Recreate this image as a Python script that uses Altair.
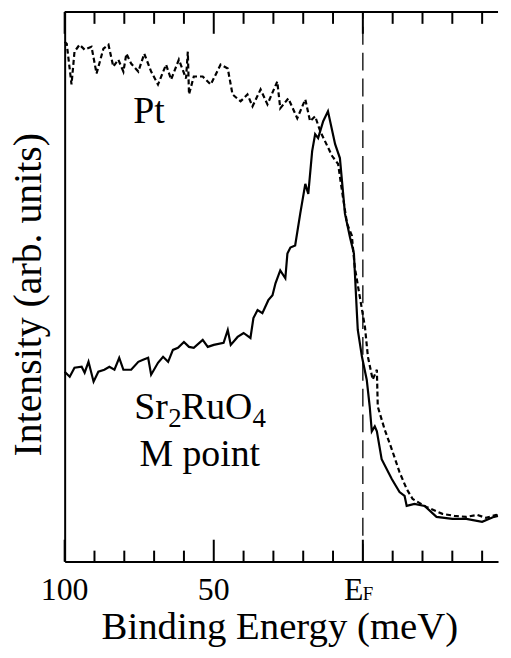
import altair as alt
import pandas as pd

# Pt reference spectrum (dashed): binding energy (meV), intensity (arb. units)
pt_energy = [100, 99.3, 97.7, 96.7, 95, 93.3, 91, 89.3, 87, 85.3, 83.7, 82, 80.3, 79.3, 77.7,
             75.3, 73.3, 71, 68.7, 66, 64.3, 61.7, 59.3, 58.7, 58.3, 56.7, 53.7, 51, 47.7, 45.3,
             43.7, 41, 38.7, 37, 34.3, 32, 28.7, 27.7, 25, 22, 19.3, 17.7, 16, 14.3, 10.3, 8.3,
             7, 5.3, 3.7, 2.7, 1, -0.7, -1.7, -3.3, -4.7, -5, -7.3, -9.7, -12.3, -14.7, -16.7,
             -21.3, -26.7, -30.7, -34.7, -38.3, -41.3, -44.7, -45.3]
pt_intensity = [523, 521, 480, 513, 520, 515, 518, 491, 516, 520, 498, 505, 493, 511, 501,
                493, 511, 493, 480, 500, 485, 505, 486, 513, 470, 488, 488, 480, 500, 496,
                470, 463, 470, 458, 475, 460, 483, 456, 466, 446, 465, 443, 448, 433, 408, 400,
                373, 340, 328, 296, 266, 236, 206, 183, 193, 156, 133, 113, 90, 73, 63,
                55, 48, 46, 45, 47, 44, 47, 46]

# Sr2RuO4 M point spectrum (solid)
sr_energy = [100, 98.3, 96.7, 94.3, 93.3, 92, 90.3, 88.7, 86.7, 85, 83.3, 81.7, 80.3, 77.7,
             75.3, 73.7, 72, 71, 68.7, 67, 65.3, 63.7, 62, 60, 58.3, 56.7, 53.7, 52, 50, 46.7,
             45.3, 44.3, 42, 40, 37.7, 36.7, 35.3, 33.7, 31.7, 30.3, 29.3, 27.7, 26, 25.3, 24.3,
             22.7, 21, 19.3, 18.3, 17, 16, 15, 13.3, 11.7, 9.3, 7.7, 6, 4.3, 3, 2, 1.7, 0.3,
             -1.3, -2.3, -3, -4, -4.7, -6.3, -9.7, -12.3, -14, -14.7, -17.3, -20.7, -24.7, -30,
             -34.7, -40, -44, -45.3]
sr_intensity = [191, 186, 195, 196, 190, 201, 181, 191, 193, 196, 193, 205, 193, 193,
                201, 203, 205, 188, 200, 206, 201, 213, 215, 221, 216, 215, 223, 216, 218, 220,
                233, 218, 226, 230, 225, 245, 253, 250, 263, 268, 280, 293, 285, 310, 316,
                318, 350, 380, 370, 413, 430, 426, 443, 453, 420, 406, 350, 326, 310, 250, 233, 206,
                183, 156, 131, 136, 131, 103, 83, 70, 66, 56, 58, 56, 45, 43,
                43, 40, 45, 46]

minor_ticks = [90, 80, 70, 60, 40, 30, 20, 10, -10, -20, -30, -40]
major_ticks = [100, 50, 0]
tick_label_values = [100, 50]
tick_label_texts = ["100", "50"]

X_MIN, X_MAX = 100, -45.33
Y_MIN, Y_MAX = 0, 553

FONT = "Liberation Serif"
xs = alt.Scale(domain=[X_MIN, X_MAX], nice=False, zero=False)
ys = alt.Scale(domain=[Y_MIN, Y_MAX], nice=False, zero=False)

df_pt = pd.DataFrame({"E": pt_energy, "I": pt_intensity})
df_sr = pd.DataFrame({"E": sr_energy, "I": sr_intensity})

x_axis = alt.Axis(labels=False, ticks=False, grid=False, domain=True, domainColor="black",
                  domainWidth=2, title="Binding Energy (meV)", titleFont=FONT, titleFontSize=39,
                  titleFontWeight="normal", titleColor="black", titleX=216, titleY=77,
                  titleAlign="center", titleBaseline="alphabetic")
y_axis = alt.Axis(labels=False, ticks=False, grid=False, domain=True, domainColor="black",
                  domainWidth=2, title="Intensity (arb. units)", titleFont=FONT, titleFontSize=40,
                  titleFontWeight="normal", titleColor="black", titleX=-24, titleY=284,
                  titleAngle=270, titleAlign="center", titleBaseline="alphabetic")

pt_line = alt.Chart(df_pt).mark_line(color="black", strokeWidth=2.2, strokeDash=[5, 3]).encode(
    x=alt.X("E:Q", scale=xs, axis=x_axis),
    y=alt.Y("I:Q", scale=ys, axis=y_axis),
)
sr_line = alt.Chart(df_sr).mark_line(color="black", strokeWidth=2.2).encode(
    x=alt.X("E:Q", scale=xs),
    y=alt.Y("I:Q", scale=ys),
)

# Fermi level dashed line
df_ef = pd.DataFrame({"E": [0], "y0": [Y_MIN], "y1": [Y_MAX]})
ef_line = alt.Chart(df_ef).mark_rule(color="black", strokeWidth=1.3, strokeDash=[18, 8]).encode(
    x=alt.X("E:Q", scale=xs), y=alt.Y("y0:Q", scale=ys), y2="y1:Q")

# top frame line
df_top = pd.DataFrame({"x0": [X_MIN], "x1": [X_MAX], "y": [Y_MAX]})
top_line = alt.Chart(df_top).mark_rule(color="black", strokeWidth=2).encode(
    x=alt.X("x0:Q", scale=xs), x2="x1:Q", y=alt.Y("y:Q", scale=ys))

# invisible layout anchor (reserves room left of and above the frame)
df_anchor = pd.DataFrame({"E": [X_MIN + 55 / 3], "y0": [Y_MIN], "y1": [Y_MAX + 1.5]})
anchor = alt.Chart(df_anchor).mark_rule(color="white", strokeWidth=1, strokeOpacity=0).encode(
    x=alt.X("E:Q", scale=xs), y=alt.Y("y0:Q", scale=ys), y2="y1:Q")

# inward ticks (bottom and top)
rows = []
for t in minor_ticks:
    rows.append({"E": t, "y0": Y_MIN, "y1": Y_MIN + 11})
    rows.append({"E": t, "y0": Y_MAX, "y1": Y_MAX - 12})
for t in major_ticks:
    rows.append({"E": t, "y0": Y_MIN, "y1": Y_MIN + 22})
    rows.append({"E": t, "y0": Y_MAX, "y1": Y_MAX - 22})
df_ticks = pd.DataFrame(rows)
ticks = alt.Chart(df_ticks).mark_rule(color="black", strokeWidth=2).encode(
    x=alt.X("E:Q", scale=xs), y=alt.Y("y0:Q", scale=ys), y2="y1:Q")

# tick labels
df_tl = pd.DataFrame({"E": tick_label_values, "I": [-39] * len(tick_label_values), "t": tick_label_texts})
tick_labels = alt.Chart(df_tl).mark_text(font=FONT, fontSize=32, align="center",
                                         baseline="alphabetic").encode(
    x=alt.X("E:Q", scale=xs), y=alt.Y("I:Q", scale=ys), text="t:N")
ef_E = alt.Chart(pd.DataFrame({"E": [6.3], "I": [-39], "t": ["E"]})).mark_text(
    font=FONT, fontSize=32, align="left", baseline="alphabetic").encode(
    x=alt.X("E:Q", scale=xs), y=alt.Y("I:Q", scale=ys), text="t:N")
ef_F = alt.Chart(pd.DataFrame({"E": [0.0], "I": [-39], "t": ["F"]})).mark_text(
    font=FONT, fontSize=19, align="left", baseline="alphabetic").encode(
    x=alt.X("E:Q", scale=xs), y=alt.Y("I:Q", scale=ys), text="t:N")

# annotations
df_big = pd.DataFrame({"E": [77, 76.7, 61], "I": [441, 143, 143], "t": ["Pt", "Sr", "RuO"]})
ann_big = alt.Chart(df_big).mark_text(font=FONT, fontSize=38, align="left",
                                      baseline="alphabetic").encode(
    x=alt.X("E:Q", scale=xs), y=alt.Y("I:Q", scale=ys), text="t:N")
df_sub = pd.DataFrame({"E": [65.3, 37], "I": [135, 135], "t": ["2", "4"]})
ann_sub = alt.Chart(df_sub).mark_text(font=FONT, fontSize=27, align="left",
                                      baseline="alphabetic").encode(
    x=alt.X("E:Q", scale=xs), y=alt.Y("I:Q", scale=ys), text="t:N")
df_m = pd.DataFrame({"E": [54.7], "I": [96], "t": ["M point"]})
ann_m = alt.Chart(df_m).mark_text(font=FONT, fontSize=38, align="center",
                                  baseline="alphabetic").encode(
    x=alt.X("E:Q", scale=xs), y=alt.Y("I:Q", scale=ys), text="t:N")

chart = alt.layer(anchor, pt_line, sr_line, ef_line, top_line, ticks, tick_labels, ef_E, ef_F,
                  ann_big, ann_sub, ann_m).properties(
    width=436, height=553,
    padding=0,
    view=alt.ViewBackground(stroke=None),
)

chart.save("out.html", embed_options={"renderer": "svg", "actions": False})
